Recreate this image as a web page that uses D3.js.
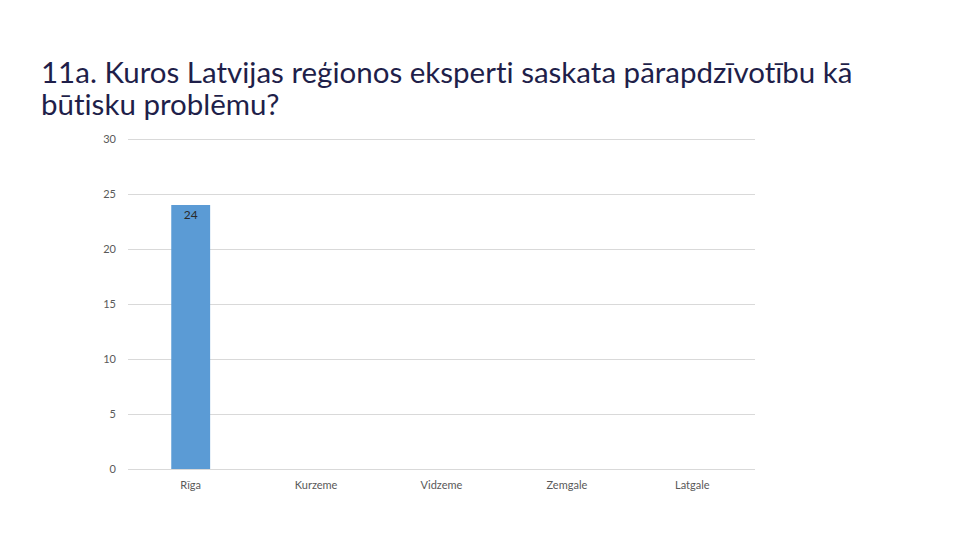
<!DOCTYPE html>
<html><head><meta charset="utf-8">
<script src="https://cdn.jsdelivr.net/npm/d3@7"></script>
<style>body{margin:0;background:#fff} text{font-variant-ligatures:none}</style>
</head><body>
<svg id="c" width="960" height="540"></svg>
<script>
const categories = ["Rīga", "Kurzeme", "Vidzeme", "Zemgale", "Latgale"];
const values = [24, null, null, null, null];
const yTicks = [0, 5, 10, 15, 20, 25, 30];
const titleLines = ["11a. Kuros Latvijas reģionos eksperti saskata pārapdzīvotību kā", "būtisku problēmu?"];

const svg = d3.select("#c");
svg.append("rect").attr("width", 960).attr("height", 540).attr("fill", "#fff");

const x = d3.scaleBand().domain(categories).range([128, 755]).paddingInner(0.69).paddingOuter(0.345);
const y = d3.scaleLinear().domain([0, 30]).range([469, 139]);

const title = svg.append("text").attr("font-family", "Lato, sans-serif").attr("font-size", 29.5).attr("fill", "#1f1f4a");
titleLines.forEach((t, i) => title.append("tspan").attr("x", 41).attr("y", 83 + i * 32).text(t));

svg.append("g").selectAll("line").data(yTicks).join("line")
  .attr("x1", 128).attr("x2", 755).attr("y1", d => y(d) + 0.5).attr("y2", d => y(d) + 0.5)
  .attr("stroke", "#d9d9d9").attr("stroke-width", 1);

svg.append("g").selectAll("text").data(yTicks).join("text")
  .attr("x", 116).attr("y", d => y(d) + 4).attr("text-anchor", "end")
  .attr("font-family", "Lato, sans-serif").attr("font-size", 11).attr("fill", "#595959").text(d => d);

const data = categories.map((c, i) => ({c, v: values[i]}));
const bars = data.filter(d => d.v != null);
svg.append("g").selectAll("rect").data(bars).join("rect")
  .attr("x", d => x(d.c)).attr("width", x.bandwidth())
  .attr("y", d => y(d.v)).attr("height", d => y(0) - y(d.v)).attr("fill", "#5b9bd5");

svg.append("g").selectAll("text").data(bars).join("text")
  .attr("x", d => x(d.c) + x.bandwidth() / 2).attr("y", d => y(d.v) + 14).attr("text-anchor", "middle")
  .attr("font-family", "Lato, sans-serif").attr("font-size", 12).attr("fill", "#2a2a2a").text(d => d.v);

svg.append("g").selectAll("text").data(categories).join("text")
  .attr("x", d => x(d) + x.bandwidth() / 2).attr("y", 489).attr("text-anchor", "middle")
  .attr("font-family", "Lato, sans-serif").attr("font-size", 11).attr("fill", "#595959").text(d => d);
</script>
</body></html>
